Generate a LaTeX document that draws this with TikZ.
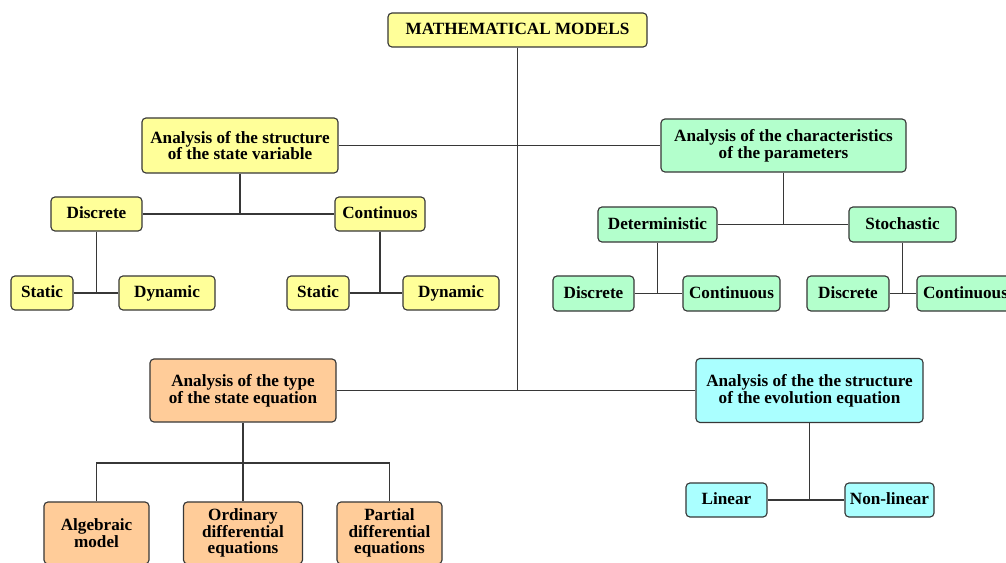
\documentclass[tikz,border=0pt]{standalone}
\usepackage{fontspec}
\setmainfont{Liberation Serif}
\usetikzlibrary{positioning}
\definecolor{yfill}{RGB}{255,255,153}
\definecolor{gfill}{RGB}{179,255,204}
\definecolor{ofill}{RGB}{255,204,153}
\definecolor{cfill}{RGB}{170,255,255}
\definecolor{edgec}{RGB}{55,55,55}
\tikzstyle{blk}=[draw=edgec, line width=0.8pt, rounded corners=0.1cm, align=center, inner sep=1pt, font=\bfseries\fontsize{12.2}{11.9}\selectfont, minimum height=0.85cm]
\tikzstyle{oneline}=[text height=0.68em, text depth=0em]
\tikzstyle{ybox}=[blk, fill=yfill]
\tikzstyle{gbox}=[blk, fill=gfill]
\tikzstyle{obox}=[blk, fill=ofill]
\tikzstyle{cbox}=[blk, fill=cfill]
\tikzstyle{wire}=[draw=edgec, line width=1pt]
\begin{document}
\begin{tikzpicture}[x=0.025cm,y=-0.025cm]
    \useasboundingbox (0,0) rectangle (1006,563);
    \clip (0,0) rectangle (1006,563);
    % top
    \node [ybox, oneline, minimum width=6.475cm] (models) at (517.5,30) {MATHEMATICAL MODELS};
    % state variable
    \node [ybox, minimum width=4.9cm, minimum height=1.375cm] (varstr) at (240,145.5) {Analysis of the structure\\of the state variable};
    \node [ybox, oneline, minimum width=2.275cm] (discr) at (96.5,214) {Discrete};
    \node [ybox, oneline, minimum width=2.25cm] (contin) at (380,214) {Continuos};
    \node [ybox, oneline, minimum width=1.55cm] (stat1) at (42,293) {Static};
    \node [ybox, oneline, minimum width=2.4cm] (dyn1) at (167,293) {Dynamic};
    \node [ybox, oneline, minimum width=1.55cm] (stat2) at (318,293) {Static};
    \node [ybox, oneline, minimum width=2.4cm] (dyn2) at (451,293) {Dynamic};
    % parameters
    \node [gbox, minimum width=6.125cm, minimum height=1.325cm] (params) at (783.5,145.5) {Analysis of the characteristics\\of the parameters};
    \node [gbox, oneline, minimum width=2.975cm, minimum height=0.875cm] (determ) at (657.5,224.5) {Deterministic};
    \node [gbox, oneline, minimum width=2.675cm, minimum height=0.875cm] (stoch) at (902.5,224.5) {Stochastic};
    \node [gbox, oneline, minimum width=2.025cm, minimum height=0.875cm] (ddiscr) at (593.5,293.5) {Discrete};
    \node [gbox, oneline, minimum width=2.425cm, minimum height=0.875cm] (dcont) at (731.5,293.5) {Continuous};
    \node [gbox, oneline, minimum width=2.05cm, minimum height=0.875cm] (sdiscr) at (848,293.5) {Discrete};
    \node [gbox, oneline, minimum width=2.425cm, minimum height=0.875cm] (scont) at (965.5,293.5) {Continuous};
    % state equation
    \node [obox, minimum width=4.65cm, minimum height=1.575cm] (stateeq) at (243,390.5) {Analysis of the type\\of the state equation};
    \node [obox, minimum width=2.625cm, minimum height=1.55cm] (alg) at (96.5,533) {Algebraic\\model};
    \node [obox, minimum width=2.975cm, minimum height=1.55cm] (ode) at (243,533) {Ordinary\\differential\\equations};
    \node [obox, minimum width=2.625cm, minimum height=1.55cm] (pde) at (389.5,533) {Partial\\differential\\equations};
    \coordinate (bus) at (243,463);
    % evolution equation
    \node [cbox, minimum width=5.675cm, minimum height=1.6cm] (evol) at (809.5,390.5) {Analysis of the the structure\\of the evolution equation};
    \node [cbox, oneline, minimum width=2.025cm] (lin) at (726.5,500) {Linear};
    \node [cbox, oneline, minimum width=2.225cm] (nonlin) at (889.5,500) {Non-linear};

    \draw [wire] (models.south) -- (models.south |- stateeq.east);
    \draw [wire] (varstr.east) -- (params.west);
    \draw [wire] (stateeq.east) -- (evol.west);
    \draw [wire] (varstr.south) -- (varstr.south |- discr.east);
    \draw [wire] (discr.east) -- (contin.west);
    \draw [wire] (discr.south) -- (discr.south |- stat1.east);
    \draw [wire] (stat1.east) -- (dyn1.west);
    \draw [wire] (contin.south) -- (contin.south |- stat2.east);
    \draw [wire] (stat2.east) -- (dyn2.west);
    \draw [wire] (params.south) -- (params.south |- determ.east);
    \draw [wire] (determ.east) -- (stoch.west);
    \draw [wire] (determ.south) -- (determ.south |- ddiscr.east);
    \draw [wire] (ddiscr.east) -- (dcont.west);
    \draw [wire] (stoch.south) -- (stoch.south |- sdiscr.east);
    \draw [wire] (sdiscr.east) -- (scont.west);
    \draw [wire] (stateeq.south) -- (ode.north);
    \draw [wire] (alg.north) |- (pde.north |- bus) -- (pde.north);
    \draw [wire] (evol.south) -- (evol.south |- lin.east);
    \draw [wire] (lin.east) -- (nonlin.west);
\end{tikzpicture}
\end{document}
